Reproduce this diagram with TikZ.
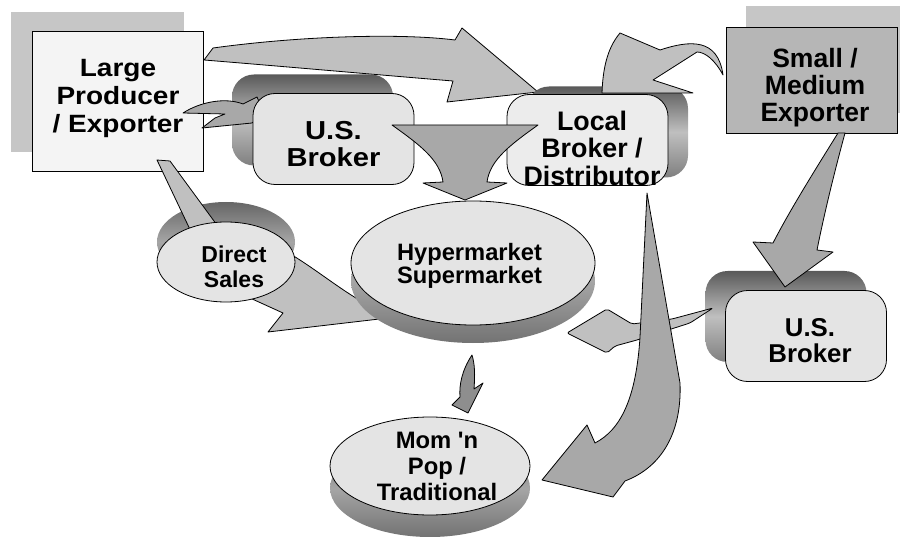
\documentclass[tikz,border=0pt]{standalone}
\usepackage{fontspec}
\newfontfamily\diagfont{Liberation Sans}
\newfontfamily\diagwide[FakeStretch=1.12]{Liberation Sans}
\usetikzlibrary{shapes,positioning}

\definecolor{boxwhite}{HTML}{F4F4F4}
\definecolor{boxlight}{HTML}{E4E4E4}
\definecolor{boxdark}{HTML}{B6B6B6}
\definecolor{shadowlight}{HTML}{C6C6C6}
\definecolor{arrowlight}{HTML}{C0C0C0}
\definecolor{arrowmid}{HTML}{A8A8A8}
\definecolor{arrowdark}{HTML}{8E8E8E}

\begin{document}
\begin{tikzpicture}[x=1pt, y=-1pt,
    fs/.style 2 args={align=center, inner sep=0pt, font=\diagfont\bfseries\fontsize{#1}{#2}\selectfont},
    fw/.style 2 args={align=center, inner sep=0pt, font=\diagwide\bfseries\fontsize{#1}{#2}\selectfont},
    sqbox/.style={rectangle, draw=black, line width=0.8pt, inner sep=0pt},
    rbox/.style={rectangle, rounded corners=22pt, draw=black, line width=0.8pt, fill=boxlight, minimum width=161pt, minimum height=91pt, inner sep=0pt},
    oval/.style={ellipse, draw=black, line width=0.8pt, fill=boxlight, inner sep=0pt},
    flatshadow/.style={rectangle, fill=shadowlight, inner sep=0pt},
    rshadow/.style={rectangle, rounded corners=22pt, top color=black!65, bottom color=black!50, middle color=black!25, minimum width=161pt, minimum height=91pt},
    oshadow/.style={ellipse, top color=black!60, bottom color=black!55, middle color=black!35, inner sep=0pt},
    blockarrow/.style={draw=black, line width=0.8pt, line join=round}
]
\useasboundingbox (0,0) rectangle (907,537);

% Large producer
\node[flatshadow, minimum width=173pt, minimum height=140pt] (lpshadow) at (97.5,82) {};
\draw[blockarrow, fill=arrowlight] (204,60) -- (213,48) .. controls (300,36) and (400,33) .. (455,40) -- (462,28) -- (538,92) -- (447,102) -- (453,81) .. controls (380,75) and (290,67) .. (204,60) -- cycle;
\node[sqbox, fill=boxwhite, minimum width=171pt, minimum height=140pt] (producer) at (117.5,101) {};
\node[fw={25}{28}] (producertext) at (118,98.5) {Large\\Producer\\/ Exporter};

% U.S. broker (top)
\node[rshadow] (usbshadow) at (312.5,120) {};
\draw[blockarrow, fill=arrowmid] (183,113) .. controls (200,102) and (225,97) .. (243,104) -- (257,97) -- (264,113) -- (252,123) -- (202,128) -- (215,118) -- (225,114) -- cycle;
\node[rbox] (usbroker) at (333.5,139) {};
\node[fw={26}{27}] (usbrokertext) at (333.5,144) {U.S.\\Broker};

% Direct sales
\node[oshadow, minimum width=138pt, minimum height=80pt] (dsshadow) at (226,242) {};
\draw[blockarrow, fill=arrowlight] (157,160) -- (170,161) -- (225,236) -- (195,240) -- cycle;
\draw[blockarrow, fill=arrowlight] (280,248) .. controls (320,270) and (350,300) .. (388,314) -- (388,318) -- (268,332) -- (283,313) -- (250,298) -- cycle;
\node[oval, minimum width=138pt, minimum height=80pt] (direct) at (226,262) {};
\node[fs={23}{25}] (directtext) at (234,267) {Direct\\Sales};

% Hypermarket
\node[oshadow, minimum width=244pt, minimum height=124pt] (hmshadow) at (473,281) {};
\node[oval, minimum width=244pt, minimum height=124pt] (hyper) at (473,263) {};
\node[fs={23.7}{23}] (hypertext) at (469.5,266) {Hypermarket\\Supermarket};

% Local broker
\node[rshadow] (lbshadow) at (607.5,132) {};
\draw[blockarrow, fill=arrowlight] (602,93) .. controls (603,62) and (610,45) .. (620,33) -- (660,50) .. controls (690,40) and (718,38) .. (723,75) .. controls (715,60) and (705,52) .. (697,52) -- (653,80) -- (693,93) -- cycle;
\node[rbox, fill=boxlight!70!white] (localbroker) at (587.5,140) {};
\node[fs={26.8}{27.5}] (localtext) at (592,148) {Local\\Broker /\\Distributor};

% funnel into hypermarket
\draw[blockarrow, fill=arrowmid] (392,125) -- (538,125) .. controls (510,145) and (490,160) .. (487,182) -- (507,183) -- (465,200) -- (423,183) -- (443,182) .. controls (440,160) and (420,145) .. (392,125) -- cycle;

% Small / medium exporter
\node[flatshadow, minimum width=154pt, minimum height=107pt] (smshadow) at (823,59.5) {};
\node[sqbox, fill=boxdark, minimum width=171pt, minimum height=106pt] (smallexp) at (811.5,80) {};
\node[fs={26.5}{26.7}] (smallexptext) at (815,87.5) {Small /\\Medium\\Exporter};

% U.S. broker (right)
\node[rshadow] (usb2shadow) at (786,316.5) {};
\draw[blockarrow, fill=arrowmid] (838,133) -- (845,133) .. controls (835,170) and (825,210) .. (817,250) -- (833,252) -- (785,287) -- (753,242) -- (773,243) .. controls (790,210) and (815,170) .. (838,133) -- cycle;
\node[rbox] (usbroker2) at (806,336) {};
\node[fs={25.8}{26}] (usbroker2text) at (810,340.5) {U.S.\\Broker};

% arrows to mom 'n pop
\draw[blockarrow, fill=arrowlight, rounded corners=2pt] (567,333) -- (607,309) -- (632,324) -- (672,319) -- (713,308) -- (690,323) -- (637,340) -- (615,346) -- (607,353) -- cycle;
\draw[blockarrow, fill=arrowmid] (647,193) -- (680,383) .. controls (682,432) and (662,467) .. (625,481) -- (613,497) -- (542,480) -- (587,425) -- (595,443) .. controls (620,430) and (636,400) .. (640,337) -- cycle;
\draw[blockarrow, fill=arrowdark] (472,355) .. controls (462,370) and (459,385) .. (460,397) -- (452,405) -- (468,413) -- (483,383) -- (474,389) .. controls (475,375) and (475,365) .. (472,355) -- cycle;

% Mom 'n pop
\node[oshadow, minimum width=200pt, minimum height=98pt] (mpshadow) at (430,488) {};
\node[oval, minimum width=200pt, minimum height=98pt] (mompop) at (430,466) {};
\node[fs={23.8}{26}] (mompoptext) at (437,466) {Mom 'n\\Pop /\\Traditional};

\end{tikzpicture}
\end{document}
